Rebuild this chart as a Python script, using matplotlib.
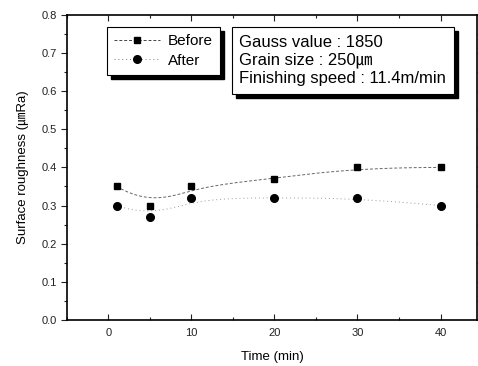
import numpy as np
import matplotlib
matplotlib.use("Agg")
import matplotlib.pyplot as plt
from matplotlib.ticker import MultipleLocator
from matplotlib.lines import Line2D
from matplotlib.patches import Rectangle

plt.rcParams['font.family'] = ['Liberation Sans', 'Noto Sans CJK KR', 'DejaVu Sans']

time = [1, 5, 10, 20, 30, 40]
before = [0.35, 0.30, 0.35, 0.37, 0.40, 0.40]
after = [0.30, 0.27, 0.32, 0.32, 0.32, 0.30]
series_names = ["Before", "After"]
info_lines = ["Gauss value : 1850", "Grain size : 250\u339b", "Finishing speed : 11.4m/min"]


def bspline(x, y, n=300, k=3):
    """Clamped uniform B-spline using data points as control points (Origin style)."""
    P = np.column_stack([x, y]).astype(float)
    m = len(P)
    inner = np.arange(1, m - k)
    t = np.concatenate([np.zeros(k + 1), inner, np.full(k + 1, m - k)]).astype(float)
    us = np.linspace(0, m - k, n)
    out = []
    for u in us:
        if u >= t[-1]:
            out.append(P[-1]); continue
        N = np.array([1.0 if t[i] <= u < t[i + 1] else 0.0 for i in range(len(t) - 1)])
        for d in range(1, k + 1):
            Nn = np.zeros(len(t) - 1 - d)
            for i in range(len(Nn)):
                a = 0.0
                if t[i + d] != t[i]:
                    a += (u - t[i]) / (t[i + d] - t[i]) * N[i]
                if t[i + d + 1] != t[i + 1]:
                    a += (t[i + d + 1] - u) / (t[i + d + 1] - t[i + 1]) * N[i + 1]
                Nn[i] = a
            N = Nn
        out.append(N @ P)
    out = np.array(out)
    return out[:, 0], out[:, 1]


fig = plt.figure(figsize=(4.78, 3.66), dpi=100)
ax = fig.add_axes([0.140, 0.126, 0.858, 0.833])

bls = (0, (3, 2))
als = (0, (1, 3))
xs, ys = bspline(time, before)
ax.plot(xs, ys, color='#666666', lw=0.7, ls=bls)
xs2, ys2 = bspline(time, after)
ax.plot(xs2, ys2, color='#999999', lw=0.7, ls=als)
ax.plot(time, before, 's', color='black', ms=5)
ax.plot(time, after, 'o', color='black', ms=5.5)

ax.set_xlim(-5, 44.4)
ax.set_ylim(0.0, 0.8)
ax.xaxis.set_major_locator(MultipleLocator(10))
ax.xaxis.set_minor_locator(MultipleLocator(5))
ax.yaxis.set_minor_locator(MultipleLocator(0.05))
ax.set_yticks(np.arange(0, 0.81, 0.1))
ax.set_yticklabels([f"{v:.1f}" for v in np.arange(0, 0.81, 0.1)])
ax.tick_params(axis='both', which='both', top=True, right=True, labelsize=8, width=0.8,
               colors='#222222')
ax.tick_params(which='major', length=4)
ax.tick_params(which='minor', length=2)
ax.tick_params(axis='x', which='both', direction='in', pad=6)
ax.tick_params(axis='y', which='both', direction='out')
for s in ax.spines.values():
    s.set_linewidth(1.2)

ax.set_xlabel("Time (min)", fontsize=9.5, labelpad=9)
ax.set_ylabel("Surface roughness (\u339bRa)", fontsize=9.5, labelpad=9)

h1 = Line2D([], [], color='#444444', lw=0.7, ls=bls, marker='s', ms=5,
            markerfacecolor='black', markeredgecolor='black')
h2 = Line2D([], [], color='#777777', lw=0.7, ls=als, marker='o', ms=5.5,
            markerfacecolor='black', markeredgecolor='black')
leg = ax.legend(handles=[h1, h2], labels=series_names, loc='upper left',
                bbox_to_anchor=(0.097, 0.962),
                fontsize=11, frameon=True, fancybox=False, shadow=False,
                edgecolor='black', handlelength=3.0, borderpad=0.5, labelspacing=0.35,
                handletextpad=0.5, borderaxespad=0, framealpha=1)
leg.get_frame().set_linewidth(0.8)
leg.set_zorder(6)

txt = "\n".join(info_lines)
t = ax.text(0.42, 0.935, txt, transform=ax.transAxes, fontsize=12, va='top', ha='left',
            linespacing=1.25, zorder=6,
            bbox=dict(boxstyle='square,pad=0.45', fc='white', ec='black', lw=0.8))

fig.canvas.draw()
r = fig.canvas.get_renderer()
for bb in (t.get_bbox_patch().get_window_extent(r), leg.get_frame().get_window_extent(r)):
    ax.add_artist(Rectangle((bb.x0 + 4, bb.y0 - 4), bb.width, bb.height,
                            transform=None, fc='black', ec='black', zorder=5, clip_on=False))

fig.savefig("out.png", dpi=100)
